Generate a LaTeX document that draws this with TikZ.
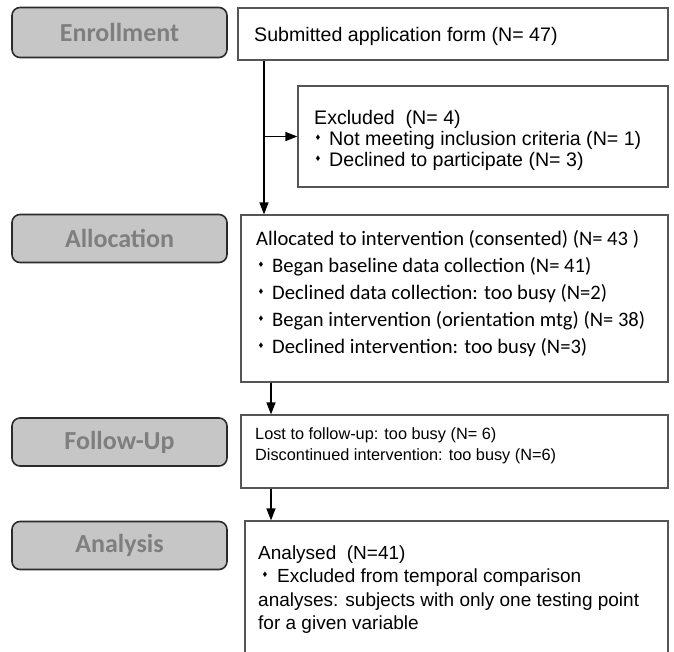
\documentclass[tikz,border=0pt]{standalone}
\usepackage{fontspec}
\setmainfont{Liberation Sans}
\newfontfamily\calfont{Carlito}
\usetikzlibrary{arrows.meta}
\definecolor{lblfill}{HTML}{C6C6C6}
\definecolor{lbltext}{HTML}{7F7F7F}
\definecolor{lbldraw}{HTML}{2B2B2B}
\definecolor{boxdraw}{HTML}{555555}
\begin{document}
\begin{tikzpicture}[x=1pt,y=-1pt,
  lbl/.style={draw=lbldraw, line width=1.6pt, fill=lblfill, rounded corners=8pt,
    minimum width=215pt, minimum height=48pt, inner sep=0pt,
    font=\calfont\bfseries\fontsize{26}{26}\selectfont, text=lbltext},
  box/.style={draw=boxdraw, line width=1.2pt, inner sep=0pt},
  arr/.style={-{Triangle[length=12pt,width=9pt]}, line width=1.3pt},
  txt/.style={anchor=base west, inner sep=0pt, font=\fontsize{19}{19}\selectfont},
  etxt/.style={anchor=base west, inner sep=0pt, font=\fontsize{19.6}{19.6}\selectfont},
  ctxt/.style={anchor=base west, inner sep=0pt, font=\calfont\fontsize{20.6}{20.6}\selectfont},
  stxt/.style={anchor=base west, inner sep=0pt, font=\fontsize{16.3}{16.3}\selectfont},
  bul/.style={inner sep=0pt, font=\fontsize{9.5}{9.5}\selectfont}]
\useasboundingbox (0,0) rectangle (674,651);
\clip (0,0) rectangle (674,651);
\fill[white] (0,0) rectangle (674,651);

% stage labels
\node[lbl, minimum height=50pt] (lenr) at (119.5,32.5) {Enrollment};
\node[lbl] (lall) at (119.5,238.5) {Allocation};
\node[lbl] (lfu)  at (119.5,442) {Follow-Up};
\node[lbl] (lana) at (119.5,545.5) {Analysis};

% boxes
\node[box, minimum width=430pt, minimum height=52pt] (sub) at (453,34) {};
\node[box, minimum width=370pt, minimum height=101pt] (exc) at (483,136.5) {};
\node[box, minimum width=427pt, minimum height=167pt] (all) at (454.5,298.5) {};
\node[box, minimum width=427pt, minimum height=73pt] (fu) at (454.5,451.5) {};
\node[box, minimum width=423pt, minimum height=159pt] (ana) at (456.5,600.5) {};

% texts
\node[etxt] (t1) at (254,41) {Submitted application form (N= 47)};

\node[etxt] (t2) at (314,124) {Excluded~~(N= 4)};
\node[bul] (b2a) at (318,138) {♦};
\node[etxt] (t2a) at (329,145) {Not meeting inclusion criteria (N= 1)};
\node[bul] (b2b) at (318,159) {♦};
\node[etxt] (t2b) at (329,166) {Declined to participate (N= 3)};

\node[ctxt] (t3) at (256,245) {Allocated to intervention (consented) (N= 43 )};
\node[bul] (b3a) at (261,265) {♦};
\node[ctxt] (t3a) at (272,272) {Began baseline data collection (N= 41)};
\node[bul] (b3b) at (261,292) {♦};
\node[ctxt] (t3b) at (272,299) {Declined data collection: too busy (N=2)};
\node[bul] (b3c) at (261,319) {♦};
\node[ctxt] (t3c) at (272,326) {Began intervention (orientation mtg) (N= 38)};
\node[bul] (b3d) at (261,346) {♦};
\node[ctxt] (t3d) at (272,353) {Declined intervention: too busy (N=3)};

\node[stxt] (t4a) at (255,439) {Lost to follow-up: too busy (N= 6)};
\node[stxt] (t4b) at (255,460) {Discontinued intervention: too busy (N=6)};

\node[txt] (t5) at (258,559) {Analysed~~(N=41)};
\node[bul] (b5) at (265,575) {♦};
\node[txt] (t5a) at (277,582) {Excluded from temporal comparison};
\node[txt] (t5b) at (258,606) {analyses: subjects with only one testing point};
\node[txt] (t5c) at (258,629) {for a given variable};

% connectors
\coordinate (j1) at (264,136.5);
\coordinate (j2) at (271,400);
\draw[arr] (sub.south -| j1) -- (all.north -| j1);
\draw[arr] (j1) -- (exc.west);
\draw[arr] (all.south -| j2) -- (fu.north -| j2);
\draw[arr] (fu.south -| j2) -- (ana.north -| j2);
\end{tikzpicture}
\end{document}
